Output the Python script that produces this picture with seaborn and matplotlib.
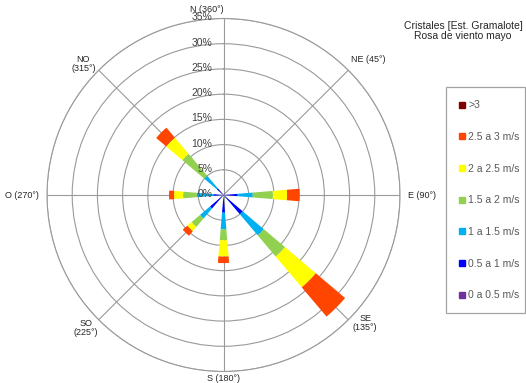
# rosa de viento - Cristales [Est. Gramalote], mayo
import numpy as np
import matplotlib
matplotlib.use('Agg')
import matplotlib.pyplot as plt
import matplotlib.transforms as mtransforms
from matplotlib.lines import Line2D
import seaborn as sns

# === Données ===
directions = ['N', 'NE', 'E', 'SE', 'S', 'SO', 'O', 'NO']
angles_deg = [0, 45, 90, 135, 180, 225, 270, 315]
dir_labels = ['N (360°)', 'NE (45°)', 'E (90°)', 'SE\n(135°)',
              'S (180°)', 'SO\n(225°)', 'O (270°)', 'NO\n(315°)']

speed_bins = ['0 a 0.5 m/s', '0.5 a 1 m/s', '1 a 1.5 m/s', '1.5 a 2 m/s',
              '2 a 2.5 m/s', '2.5 a 3 m/s', '>3']

# fréquence (%) par classe de vitesse et par direction (N, NE, E, SE, S, SO, O, NO)
v_0_05 = [0, 0, 0, 0, 0, 0, 0, 0]
v_05_1 = [0, 0.4, 2.8, 5.0, 3.5, 3.5, 2.0, 1.7]
v_1_15 = [0, 0, 3.0, 5.5, 3.3, 2.6, 3.3, 3.3]
v_15_2 = [0, 0, 4.0, 5.5, 2.2, 2.2, 2.7, 5.7]
v_2_25 = [0, 0, 2.8, 8.0, 3.2, 1.1, 1.8, 4.2]
v_25_3 = [0, 0, 2.5, 7.6, 1.3, 1.2, 1.0, 2.6]
v_3 = [0, 0, 0, 0, 0, 0, 0, 0]

r_ticks = [0, 5, 10, 15, 20, 25, 30, 35]

colors = ['#7030A0', '#0000FF', '#00B0F0', '#92D050', '#FFFF00', '#FF4500', '#800000']

series = [v_0_05, v_05_1, v_1_15, v_15_2, v_2_25, v_25_3, v_3]

sns.set_style('white')
plt.rcParams['font.family'] = ['Liberation Sans', 'DejaVu Sans']
palette = sns.color_palette(colors)

W, H = 526, 383
fig = plt.figure(figsize=(W / 100, H / 100), dpi=100)

# centre (223.5, 195) px, rayon 176.5 px
cx, cy, R = 223.5, 195, 176.5
ax = fig.add_axes([(cx - R) / W, (H - cy - R) / H, 2 * R / W, 2 * R / H], projection='polar')
ax.set_theta_zero_location('N')
ax.set_theta_direction(-1)
ax.set_ylim(0, 35)

theta = np.deg2rad(angles_deg)
bottom = np.zeros(len(directions))
for vals, col in zip(series, palette):
    vals = np.array(vals, dtype=float)
    ax.bar(theta, vals, width=0.165, bottom=bottom, color=col, edgecolor='none',
           linewidth=0, align='center', zorder=3)
    bottom += vals

# grille
grid_col = '#9A9A9A'
ax.set_xticks(theta)
ax.set_xticklabels([])
ax.set_yticks(r_ticks[1:])
ax.set_yticklabels([])
ax.grid(True, color=grid_col, linewidth=0.8)
ax.spines['polar'].set_color(grid_col)
ax.spines['polar'].set_linewidth(0.8)
ax.set_axisbelow(True)

# étiquettes % le long de l'axe N
off = mtransforms.offset_copy(ax.transData, fig=fig, x=-11, y=1, units='dots')
for r in r_ticks:
    ax.text(0, r, f'{r}%', transform=off, ha='right', va='center',
            fontsize=7.5, color='#404040', zorder=5)

# étiquettes des directions (theta, r, ha)
label_pos = [(0, 36.8, 'right'), (47, 39.3, 'center'), (90, 36.5, 'left'),
             (132, 37.8, 'center'), (180, 36.3, 'center'), (226, 38.0, 'center'),
             (270, 36.6, 'right'), (313, 38.0, 'center')]
for lab, (a, r, ha) in zip(dir_labels, label_pos):
    ax.text(np.deg2rad(a), r, lab, ha=ha, va='center', fontsize=6.5,
            color='#262626', linespacing=1.0)

# titre
fig.text(463 / W, 1 - 31 / H, 'Cristales [Est. Gramalote]\nRosa de viento mayo',
         ha='center', va='center', fontsize=7.5, color='#262626', linespacing=1.05)

# légende (ordre inverse: >3 en haut)
handles = [Line2D([0], [0], marker='s', linestyle='none', markersize=5,
                  markerfacecolor=c, markeredgecolor=c) for c in palette]
leg = fig.legend(handles[::-1], speed_bins[::-1],
                 loc='upper left', bbox_to_anchor=(446 / W, 1 - 91 / H, 79 / W, 0.01),
                 mode='expand', frameon=True, fancybox=False, fontsize=7.5,
                 labelspacing=2.08, handlelength=0.6, handletextpad=0.3,
                 borderpad=1.25, borderaxespad=0, labelcolor='#595959')
leg.get_frame().set_edgecolor('#8C8C8C')
leg.get_frame().set_linewidth(0.9)

fig.savefig('out.png', dpi=100)
